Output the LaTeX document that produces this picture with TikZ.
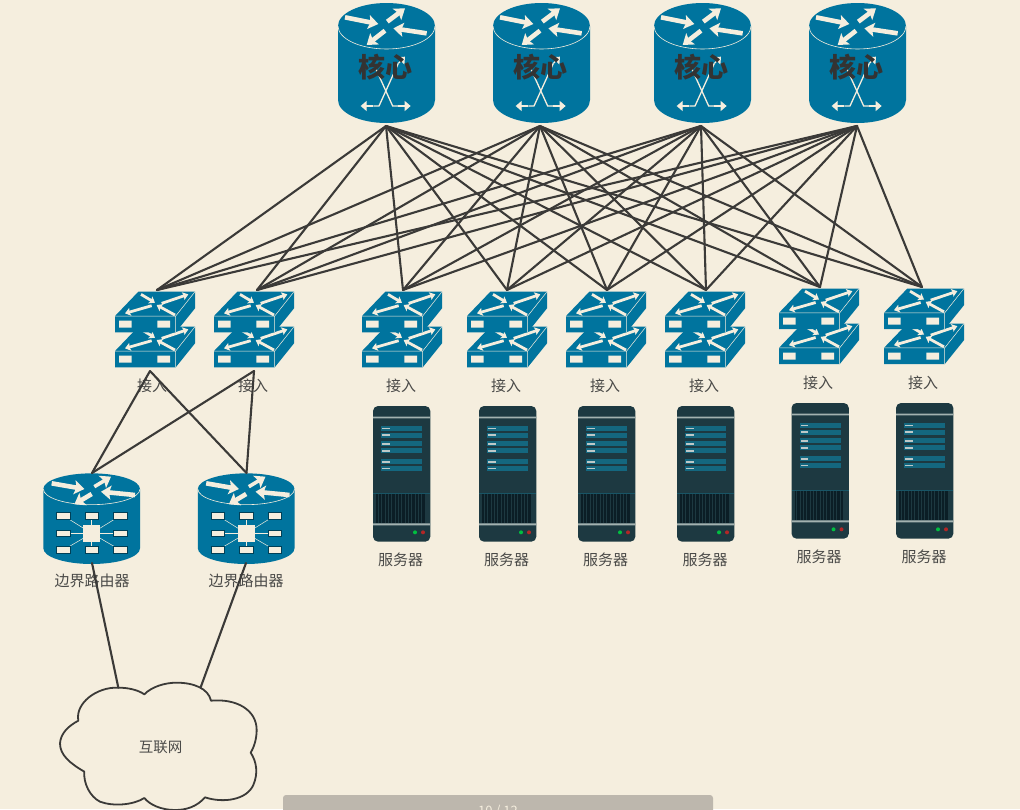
\documentclass[tikz,border=0pt]{standalone}
\usepackage{fontspec}
\setmainfont{Noto Sans CJK SC}
\usetikzlibrary{arrows.meta}
\definecolor{paper}{HTML}{F5EEDE}
\definecolor{iconblue}{HTML}{00749E}
\definecolor{iconlight}{HTML}{F5EEDE}
\definecolor{wire}{HTML}{3B3A38}
\definecolor{labelgrey}{HTML}{4A4A48}
\definecolor{srvbody}{HTML}{1D3941}
\definecolor{srvbar}{HTML}{14677F}
\definecolor{srvgrill}{HTML}{0B1E26}
\definecolor{srvline}{HTML}{A3B2B0}
\definecolor{pagerbar}{HTML}{BDB7AD}
\tikzset{
  flowarrow/.style={draw=iconlight,line width=4.6pt,-{Stealth[length=10pt,width=14pt,inset=2pt]}},
  thinarrow/.style={draw=iconlight,line width=1.3pt,-{Triangle[length=6pt,width=10pt]}},
  swarrow/.style={draw=iconlight,line width=2.8pt,-{Stealth[length=5.5pt,width=8pt,inset=1pt]}},
  link/.style={draw=wire,line width=2.1pt,line cap=round},
  devlabel/.style={text=labelgrey,font=\fontsize{15}{15}\selectfont,inner sep=0pt},
  srvlabel/.style={text=labelgrey,font=\fontsize{15}{15}\selectfont,inner sep=0pt},
  corelabel/.style={text=black!80,font=\bfseries\fontsize{27}{27}\selectfont,inner sep=0pt},
  core/.pic={
    \begin{scope}[shift={(-48.5,-60)}]
      \fill[iconblue] (0,23) -- (0,97) arc[start angle=180,end angle=0,x radius=48.5,y radius=23] -- (97,23) arc[start angle=0,end angle=-180,x radius=48.5,y radius=23] -- cycle;
      \draw[iconlight,line width=.6pt] (0,23) arc[start angle=180,end angle=0,x radius=48.5,y radius=23];
    \end{scope}
    \begin{scope}[shift={(-56.5,-63)},scale=1/3]
      \draw[flowarrow] (45,52) -- (145,72);
      \draw[flowarrow] (172,65) -- (225,25);
      \draw[flowarrow] (290,100) -- (190,85);
      \draw[flowarrow] (165,92) -- (110,135);
      \draw[thinarrow] (130,318) -- (92,318);
      \draw[thinarrow] (205,318) -- (242,318);
      \draw[iconlight,line width=1.3pt] (130,318) -- (147,318) -- (205,190);
      \draw[iconlight,line width=1.3pt] (205,318) -- (188,318) -- (130,190);
      \draw[thinarrow] (205,190) -- (225,170);
    \end{scope}
  },
  border/.pic={
    \begin{scope}[shift={(-57,-53)},scale=1/3]
      \fill[iconblue] (25,72) -- (25,250) arc[start angle=180,end angle=0,x radius=145,y radius=47] -- (315,72) arc[start angle=0,end angle=-180,x radius=145,y radius=47] -- cycle;
      \draw[iconlight,line width=.6pt] (25,72) arc[start angle=180,end angle=0,x radius=145,y radius=47];
      \draw[flowarrow] (50,55) -- (148,72);
      \draw[flowarrow,line width=3.6pt] (178,65) -- (228,35);
      \draw[flowarrow] (300,90) -- (198,80);
      \draw[flowarrow] (170,87) -- (118,118);
      \foreach \px/\py in {85/152,170/152,256/152,85/205,256/205,85/255,170/255,256/255}
        \draw[iconlight,line width=.5pt] (170,205) -- (\px,\py);
      \foreach \px/\py in {85/152,170/152,256/152,85/205,256/205,85/255,170/255,256/255}
        \filldraw[fill=iconlight,draw=black!45!iconblue,line width=.4pt] (\px-20,\py-10) rectangle (\px+20,\py+10);
      \fill[iconlight] (144,180) rectangle (196,230);
    \end{scope}
  },
  switchunit/.pic={
    \begin{scope}[scale=1/3]
      \fill[iconblue] (0,73) -- (70,0) -- (240,0) -- (240,50) -- (182,122) -- (0,122) -- cycle;
      \draw[iconlight,line width=.5pt] (0,73) -- (182,73) -- (240,0) (182,73) -- (182,122);
      \fill[iconlight] (12,87) rectangle (50,108) (127,87) rectangle (165,108);
      \draw[swarrow] (110,42) -- (30,65);
      \draw[swarrow] (140,35) -- (220,8);
      \draw[swarrow] (78,8) -- (120,33);
      \draw[swarrow] (180,70) -- (125,40);
    \end{scope}
  },
  switchpair/.pic={
    \pic at (0,35) {switchunit};
    \pic at (0,0) {switchunit};
  },
  server/.pic={
    \begin{scope}[shift={(-13.33,-6)},scale=1/3]
      \fill[srvbody,rounded corners=5pt] (40,18) rectangle (212,425);
      \fill[srvline] (40,50) rectangle (212,55) (40,370) rectangle (212,376);
      \foreach \by in {78,98,124,145,178,198}{
        \fill[srvbar] (65,\by) rectangle (187,\by+15);
        \fill[srvline!70!white] (67,\by+5) rectangle (90,\by+10);
      }
      \fill[srvbar!60!srvbody] (40,279) rectangle (212,283);
      \fill[srvgrill] (50,283) rectangle (197,368);
      \foreach \gx in {56,66,...,196}
        \draw[srvbody,line width=.7pt] (\gx,283) -- (\gx,368);
      \fill[green!50!teal] (166,397) circle (6);
      \fill[red!65!black!85!white] (190,397) circle (6);
    \end{scope}
  }
}
\begin{document}
\begin{tikzpicture}[x=1pt,y=-1pt]
\useasboundingbox (0,0) rectangle (1020,809);
\fill[paper] (0,0) rectangle (1020,809);

% core routers
\foreach \nm/\cx in {c1/386.5,c2/541.5,c3/702.5,c4/857.5}{
  \pic at (\cx,63) {core};
  \node[corelabel] (\nm label) at (\cx-1.5,67) {核心};
}
\coordinate (c1) at (386,126);
\coordinate (c2) at (540,126);
\coordinate (c3) at (701,126);
\coordinate (c4) at (857,126);

% access switches
\foreach \sx/\sy in {115/291.7,214/291.7,362/291.7,467/291.7,566/291.7,665/291.7,779/288.5,884/288.5}
  \pic at (\sx,\sy) {switchpair};
\coordinate (a1) at (157,290);
\coordinate (a2) at (257,290);
\coordinate (a3) at (403,290);
\coordinate (a4) at (507,290);
\coordinate (a5) at (607,290);
\coordinate (a6) at (706,290);
\coordinate (a7) at (820,287);
\coordinate (a8) at (922,287);
\coordinate (a1s) at (150,371);
\coordinate (a2s) at (254,371);
\foreach \nm/\lx/\ly in {l1/152/386,l2/253/386,l3/401/386,l4/506/386,l5/605/386,l6/704/386,l7/818/382.5,l8/923/382.5}
  \node[devlabel] (\nm) at (\lx,\ly) {接入};

% servers
\foreach \nm/\sx/\sy/\tx/\ty in {s1/373/406/400.5/560,s2/479/406/506.5/560,s3/578/406/605.5/560,s4/677/406/705/560,s5/791.5/403/819/556.5,s6/896/403/924/556.5}{
  \pic at (\sx,\sy) {server};
  \node[srvlabel] (\nm) at (\tx,\ty) {服务器};
}

% border routers
\pic at (92,518) {border};
\pic at (246.5,518) {border};
\node[devlabel] (b1label) at (92,581) {边界路由器};
\node[devlabel] (b2label) at (246,581) {边界路由器};
\coordinate (b1t) at (92,473);
\coordinate (b2t) at (246.5,473);
\coordinate (b1b) at (92,563);
\coordinate (b2b) at (246,563);

% internet cloud
\begin{scope}[shift={(40,670)},scale=1/3]
  \draw[wire,line width=1.8pt,line join=round]
    (235,53) .. controls (265,53) and (295,60) .. (313,73)
    .. controls (335,50) and (375,38) .. (410,38)
    .. controls (460,38) and (505,55) .. (513,92)
    .. controls (590,85) and (650,120) .. (650,180)
    .. controls (650,205) and (643,230) .. (632,248)
    .. controls (650,275) and (655,310) .. (640,345)
    .. controls (620,390) and (550,400) .. (495,382)
    .. controls (470,410) and (440,420) .. (405,420)
    .. controls (365,420) and (330,405) .. (313,384)
    .. controls (280,405) and (220,410) .. (180,395)
    .. controls (150,380) and (130,340) .. (133,305)
    .. controls (90,280) and (60,255) .. (60,220)
    .. controls (62,190) and (85,168) .. (115,152)
    .. controls (105,100) and (170,50) .. (235,53) -- cycle;
  \coordinate (cloudl) at (235,53);
  \coordinate (cloudr) at (482,52);
\end{scope}
\node[devlabel,font=\fontsize{14.5}{14.5}\selectfont] (cloudlabel) at (160.5,747) {互联网};

% connectors
\foreach \c in {c1,c2,c3,c4}
  \foreach \a in {a1,a2,a3,a4,a5,a6,a7,a8}
    \draw[link] (\c) -- (\a);
\foreach \a in {a1s,a2s}
  \foreach \b in {b1t,b2t}
    \draw[link] (\a) -- (\b);
\draw[link] (b1b) -- (cloudl);
\draw[link] (b2b) -- (cloudr);

% page indicator
\fill[pagerbar,rounded corners=3pt] (283,795) rectangle (713,840);
\node[text=paper,font=\fontsize{13}{13}\selectfont,inner sep=0pt] (pager) at (498,811) {10 / 12};
\end{tikzpicture}
\end{document}
